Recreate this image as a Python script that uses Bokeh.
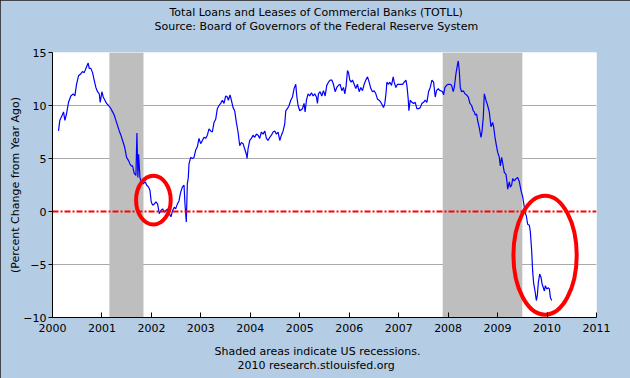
from bokeh.plotting import figure
from bokeh.models import Range1d, FixedTicker, Span, Title
from bokeh.embed import file_html
from bokeh.resources import INLINE

title_line1 = "Total Loans and Leases of Commercial Banks (TOTLL)"
title_line2 = "Source: Board of Governors of the Federal Reserve System"
footer_line1 = "Shaded areas indicate US recessions."
footer_line2 = "2010 research.stlouisfed.org"
y_label = "(Percent Change from Year Ago)"

dates = [
    2000.121, 2000.148, 2000.189, 2000.223, 2000.250, 2000.283, 2000.324, 2000.371,
    2000.418, 2000.452, 2000.486, 2000.526, 2000.574, 2000.607, 2000.641, 2000.675,
    2000.702, 2000.722, 2000.742, 2000.776, 2000.810, 2000.843, 2000.877, 2000.911,
    2000.945, 2000.965, 2000.999, 2001.026, 2001.059, 2001.093, 2001.134, 2001.181,
    2001.215, 2001.248, 2001.282, 2001.316, 2001.350, 2001.383, 2001.417, 2001.451,
    2001.471, 2001.498, 2001.538, 2001.565, 2001.592, 2001.619, 2001.653, 2001.687,
    2001.707, 2001.727, 2001.741, 2001.768, 2001.795, 2001.835, 2001.876, 2001.903,
    2001.943, 2001.970, 2001.997, 2002.024, 2002.058, 2002.092, 2002.126, 2002.159,
    2002.193, 2002.227, 2002.260, 2002.294, 2002.328, 2002.362, 2002.395, 2002.429,
    2002.463, 2002.490, 2002.524, 2002.557, 2002.591, 2002.625, 2002.659, 2002.679,
    2002.706, 2002.726, 2002.746, 2002.760, 2002.794, 2002.827, 2002.861, 2002.895,
    2002.929, 2002.962, 2002.996, 2003.030, 2003.064, 2003.097, 2003.131, 2003.165,
    2003.198, 2003.232, 2003.266, 2003.300, 2003.333, 2003.367, 2003.401, 2003.435,
    2003.468, 2003.502, 2003.536, 2003.556, 2003.590, 2003.617, 2003.651, 2003.684,
    2003.718, 2003.752, 2003.786, 2003.819, 2003.853, 2003.887, 2003.920, 2003.934,
    2003.954, 2003.988, 2004.022, 2004.055, 2004.089, 2004.123, 2004.157, 2004.190,
    2004.224, 2004.258, 2004.292, 2004.325, 2004.359, 2004.393, 2004.427, 2004.460,
    2004.494, 2004.528, 2004.562, 2004.595, 2004.629, 2004.663, 2004.697, 2004.717,
    2004.750, 2004.784, 2004.818, 2004.852, 2004.885, 2004.919, 2004.939, 2004.966,
    2005.000, 2005.054, 2005.087, 2005.108, 2005.135, 2005.168, 2005.202, 2005.236,
    2005.270, 2005.303, 2005.337, 2005.357, 2005.378, 2005.411, 2005.445, 2005.479,
    2005.513, 2005.546, 2005.580, 2005.614, 2005.648, 2005.681, 2005.715, 2005.749,
    2005.782, 2005.816, 2005.850, 2005.884, 2005.911, 2005.938, 2005.965, 2005.985,
    2006.012, 2006.039, 2006.066, 2006.100, 2006.133, 2006.167, 2006.201, 2006.235,
    2006.268, 2006.302, 2006.336, 2006.370, 2006.403, 2006.437, 2006.471, 2006.504,
    2006.538, 2006.572, 2006.606, 2006.639, 2006.673, 2006.693, 2006.720, 2006.747,
    2006.761, 2006.788, 2006.822, 2006.855, 2006.889, 2006.909, 2006.943, 2006.977,
    2007.011, 2007.044, 2007.078, 2007.112, 2007.146, 2007.166, 2007.193, 2007.206,
    2007.233, 2007.267, 2007.301, 2007.334, 2007.368, 2007.402, 2007.436, 2007.469,
    2007.503, 2007.537, 2007.571, 2007.604, 2007.638, 2007.672, 2007.706, 2007.739,
    2007.766, 2007.800, 2007.834, 2007.854, 2007.888, 2007.908, 2007.935, 2007.969,
    2008.002, 2008.036, 2008.070, 2008.104, 2008.124, 2008.158, 2008.191, 2008.205,
    2008.225, 2008.245, 2008.272, 2008.306, 2008.340, 2008.374, 2008.407, 2008.441,
    2008.475, 2008.508, 2008.529, 2008.549, 2008.576, 2008.596, 2008.630, 2008.664,
    2008.684, 2008.711, 2008.731, 2008.765, 2008.799, 2008.832, 2008.866, 2008.900,
    2008.920, 2008.947, 2008.981, 2009.001, 2009.035, 2009.055, 2009.082, 2009.102,
    2009.136, 2009.170, 2009.190, 2009.204, 2009.237, 2009.258, 2009.285, 2009.305,
    2009.338, 2009.372, 2009.406, 2009.440, 2009.473, 2009.507, 2009.541, 2009.561,
    2009.581, 2009.608, 2009.642, 2009.662, 2009.689, 2009.710, 2009.730, 2009.757,
    2009.784, 2009.804, 2009.824, 2009.851, 2009.878, 2009.898, 2009.919, 2009.946,
    2009.966, 2009.993, 2010.027, 2010.047, 2010.067, 2010.094,
]
pct_change = [
    7.6, 8.6, 9.0, 9.4, 8.6, 9.2, 10.3, 10.9,
    11.1, 10.9, 12.0, 12.8, 13.0, 13.2, 13.1, 13.5,
    13.8, 14.0, 13.5, 13.5, 13.1, 12.4, 11.7, 11.3,
    11.1, 10.3, 11.3, 10.8, 10.5, 10.2, 10.0, 9.7,
    9.4, 9.1, 8.6, 8.1, 7.6, 7.2, 6.7, 6.2,
    5.8, 5.1, 4.8, 4.5, 4.3, 4.3, 3.6, 3.4,
    7.4, 3.2, 5.4, 3.2, 2.8, 2.6, 2.8, 2.5,
    2.3, 2.0, 0.9, 0.6, 0.7, 0.9, 0.7, -0.2,
    0.1, 0.25, -0.05, 0.1, 0.25, -0.2, -0.5, 0.1,
    0.4, 0.25, 0.7, 1.0, 1.8, 2.3, 2.5, 0.7,
    -1.0, 2.6, 3.2, 4.5, 5.1, 5.0, 5.1, 5.8,
    6.1, 6.9, 6.4, 6.7, 7.0, 6.9, 7.2, 7.8,
    7.6, 7.5, 8.4, 8.7, 9.7, 10.0, 10.2, 10.5,
    10.2, 10.9, 10.8, 10.5, 11.0, 10.5, 9.8, 9.5,
    8.4, 7.5, 6.2, 6.5, 6.4, 5.9, 5.4, 5.0,
    5.9, 6.7, 6.9, 7.2, 7.0, 7.3, 7.2, 6.9,
    7.5, 7.3, 7.6, 6.9, 6.7, 7.0, 7.2, 7.5,
    7.6, 7.3, 7.5, 6.7, 7.2, 7.6, 8.3, 9.5,
    9.7, 10.0, 10.5, 10.8, 11.6, 12.0, 10.9, 10.0,
    9.5, 9.7, 10.2, 9.4, 10.5, 11.1, 10.9, 11.2,
    10.9, 11.1, 10.8, 10.2, 11.1, 11.3, 10.9, 11.4,
    10.9, 11.9, 12.2, 12.4, 12.4, 12.0, 11.3, 11.7,
    11.9, 12.0, 11.4, 11.7, 11.1, 11.9, 13.3, 13.1,
    12.4, 12.2, 12.4, 12.0, 11.6, 12.0, 11.3, 11.7,
    11.4, 12.0, 12.4, 12.7, 12.2, 11.6, 11.3, 11.4,
    11.1, 10.6, 10.5, 10.3, 10.0, 9.8, 10.2, 11.3,
    12.2, 12.0, 12.2, 11.9, 12.7, 12.2, 11.7, 12.0,
    12.0, 12.0, 12.0, 12.2, 12.4, 11.9, 10.6, 9.5,
    10.5, 10.3, 10.2, 10.3, 9.7, 9.7, 9.8, 10.2,
    10.3, 10.5, 10.3, 11.3, 11.7, 12.4, 12.2, 10.8,
    11.4, 11.6, 11.4, 11.4, 11.3, 11.0, 11.7, 11.9,
    12.0, 12.0, 11.9, 11.3, 11.7, 13.0, 13.9, 14.2,
    13.3, 11.7, 11.3, 11.4, 11.1, 11.0, 10.8, 10.2,
    10.0, 9.5, 9.4, 9.1, 9.2, 8.6, 7.9, 7.0,
    7.5, 8.9, 11.1, 10.5, 10.0, 9.4, 8.0, 8.4,
    8.0, 7.0, 6.1, 5.6, 5.1, 4.3, 5.1, 4.6,
    3.7, 3.5, 2.8, 2.1, 2.8, 2.3, 2.5, 3.1,
    2.9, 3.1, 3.2, 2.8, 2.0, 1.4, 0.4, -0.2,
    -0.4, -1.2, -1.3, -1.9, -3.7, -5.7, -6.8, -7.5,
    -8.4, -7.9, -6.7, -5.9, -6.2, -6.8, -7.1, -7.5,
    -7.0, -7.3, -7.2, -7.3, -8.1, -8.4,
]

recession_start = [2001.15, 2007.89]
recession_end = [2001.84, 2009.50]
x_ticks = list(range(2000, 2012))
y_ticks = [-10, -5, 0, 5, 10, 15]
grid_levels = [-5, 5, 10, 15]
x_min, x_max = 2000, 2011
y_min, y_max = -10, 15

circle_x = [2002.04, 2009.96]
circle_y = [1.07, -4.12]
circle_w = [0.70, 1.28]
circle_h = [4.6, 11.25]

BG = "#B4CCE4"
FONT = "DejaVu Sans"

p = figure(
    width=630, height=378, output_backend="svg", toolbar_location=None,
    x_range=Range1d(x_min, x_max), y_range=Range1d(y_min, y_max),
    min_border_left=52, min_border_right=34, min_border_top=52, min_border_bottom=61,
    background_fill_color="white", border_fill_color=BG,
    outline_line_color=None, title=None,
)
p.styles = {"outline": "1px solid #1A1A1A", "outline-offset": "-1px"}

p.xgrid.visible = False
p.ygrid.ticker = FixedTicker(ticks=grid_levels)
p.ygrid.grid_line_color = "#AAAAAA"
p.ygrid.grid_line_width = 1

# recession shading
p.quad(left=recession_start, right=recession_end, bottom=y_min, top=y_max,
       fill_color="#BEBEBE", line_color=None)

# data line
p.line(dates, pct_change, line_color="#0000FF", line_width=1.2)

# zero reference line
p.add_layout(Span(location=0, dimension="width", line_color="#FF0000",
                  line_width=2, line_dash="6 2 2 2"))

# hand-drawn style circles
p.ellipse(x=circle_x, y=circle_y, width=circle_w, height=circle_h,
          fill_color=None, line_color="#FF0000", line_width=4)

# axes
p.xaxis.ticker = FixedTicker(ticks=x_ticks)
p.yaxis.ticker = FixedTicker(ticks=y_ticks)
for ax in (p.xaxis[0], p.yaxis[0]):
    ax.axis_line_color = "black"
    ax.axis_line_width = 1
    ax.major_tick_line_color = "black"
    ax.minor_tick_line_color = None
    ax.major_label_text_font = FONT
    ax.major_label_text_font_size = "11px"
    ax.major_label_text_color = "black"
p.xaxis.major_tick_in = 5
p.xaxis.major_tick_out = 0
p.xaxis.major_label_standoff = 6
p.yaxis.major_tick_in = 0
p.yaxis.major_tick_out = 4
p.yaxis.major_label_standoff = 2
p.yaxis.axis_label = y_label
p.yaxis.axis_label_text_font = FONT
p.yaxis.axis_label_text_font_size = "11px"
p.yaxis.axis_label_text_font_style = "normal"
p.yaxis.axis_label_text_color = "black"
p.yaxis.axis_label_standoff = -2


def make_title(txt, offset=0, standoff=0, valign="middle", size="11px", align="left"):
    return Title(text=txt, align=align, offset=offset, standoff=standoff,
                 vertical_align=valign, text_font=FONT, text_font_size=size,
                 text_font_style="normal", text_color="black")


# top texts (stacked outward from the plot frame)
p.add_layout(make_title(" ", standoff=3.5), "above")
p.add_layout(make_title(title_line2, offset=102), "above")
p.add_layout(make_title(title_line1, offset=117, valign="bottom"), "above")

# bottom texts (stacked outward below the x axis)
p.add_layout(make_title(" ", size="4px"), "below")
p.add_layout(make_title(footer_line1, offset=162, standoff=2, valign="bottom"), "below")
p.add_layout(make_title(footer_line2, offset=185, valign="top"), "below")

html = file_html(p, INLINE, title="TOTLL")
html = html.replace("<body>", '<body style="background-color:%s;">' % BG, 1)
open("out.html", "w").write(html)
